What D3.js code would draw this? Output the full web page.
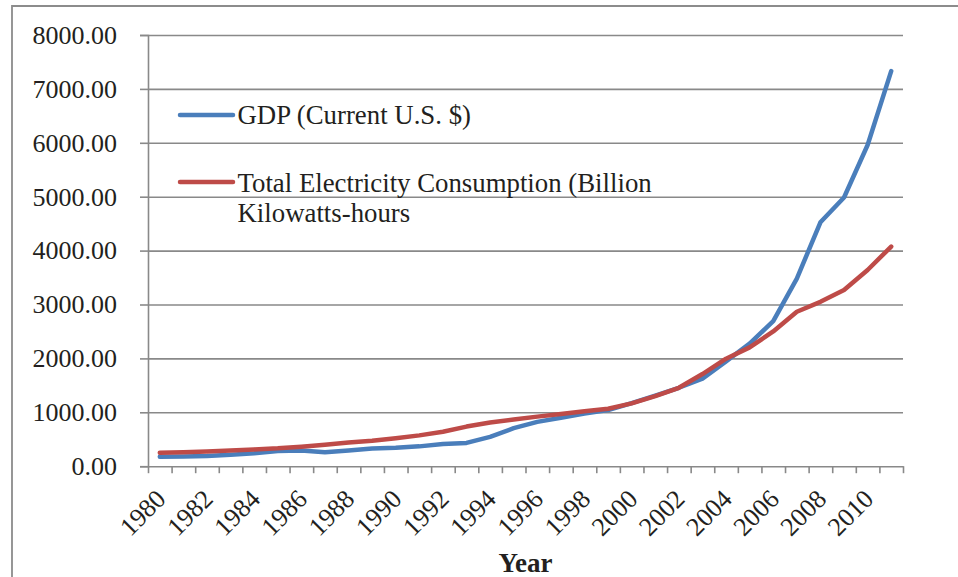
<!DOCTYPE html>
<html>
<head>
<meta charset="utf-8">
<script src="https://cdn.jsdelivr.net/npm/d3@7"></script>
<style>
  html, body { margin: 0; padding: 0; background: #fff; }
  svg { display: block; }
  text { font-family: "Liberation Serif", "Times New Roman", serif; fill: #231f20; }
</style>
</head>
<body>
<svg id="chart" width="958" height="577"></svg>
<script>
const years = [1980,1981,1982,1983,1984,1985,1986,1987,1988,1989,1990,1991,1992,1993,1994,1995,
               1996,1997,1998,1999,2000,2001,2002,2003,2004,2005,2006,2007,2008,2009,2010,2011];
const gdp  = [176,182,190,214,240,280,292,258,292,328,342,368,410,432,545,705,
              822,900,975,1040,1170,1310,1455,1625,1945,2275,2690,3480,4525,4985,5960,7330];
const elec = [250,260,272,292,312,332,362,400,440,472,520,572,640,735,812,867,
              920,970,1018,1065,1165,1300,1455,1710,1995,2205,2500,2866,3050,3268,3640,4075];
const yTicks = [0,1000,2000,3000,4000,5000,6000,7000,8000];
const xLabels = [1980,1982,1984,1986,1988,1990,1992,1994,1996,1998,2000,2002,2004,2006,2008,2010];
const seriesNames = ["GDP (Current U.S. $)", "Total Electricity Consumption (Billion", "Kilowatts-hours"];

const svg = d3.select("#chart");
const L = 148, R = 903, T = 35, B = 466.2;
const gridColor = "#898989";
const blue = "#4A7EBB", red = "#BE4B48";

// outer frame (left & top)
svg.append("path").attr("d", "M12,580 L12,6 L960,6")
  .attr("fill", "none").attr("stroke", "#8c8c8c").attr("stroke-width", 1.8);

const x = d3.scaleBand().domain(years).range([L, R]);
const y = d3.scaleLinear().domain([0, 8000]).range([B, T]);
const cx = d => x(d) + x.bandwidth() / 2;

// y axis ticks + labels
const yAxis = svg.append("g").attr("transform", `translate(${L},0)`)
  .call(d3.axisLeft(y).tickValues(yTicks).tickSize(8).tickFormat(d3.format(".2f")).tickPadding(23));
yAxis.select(".domain").attr("stroke", gridColor).attr("stroke-width", 1.6);
yAxis.selectAll(".tick line").attr("stroke", gridColor).attr("stroke-width", 1.6);
yAxis.selectAll(".tick text").attr("font-size", 26).attr("font-family", "Liberation Serif").attr("fill", "#231f20");

// gridlines
const grid = svg.append("g").attr("transform", `translate(${L},0)`)
  .call(d3.axisLeft(y).tickValues(yTicks.slice(1)).tickSize(-(R - L)).tickFormat(""));
grid.select(".domain").remove();
grid.selectAll(".tick line").attr("stroke", gridColor).attr("stroke-width", 1.6);

// x axis with ticks at category boundaries
const xi = d3.scaleLinear().domain([0, years.length]).range([L, R]);
const xAxis = svg.append("g").attr("transform", `translate(0,${B})`)
  .call(d3.axisBottom(xi).tickValues(d3.range(years.length + 1)).tickSize(7).tickSizeOuter(0).tickFormat(""));
xAxis.select(".domain").attr("stroke", gridColor).attr("stroke-width", 1.6);
xAxis.selectAll(".tick line").attr("stroke", gridColor).attr("stroke-width", 1.6);

// x labels
svg.append("g").selectAll("text").data(xLabels).join("text")
  .attr("transform", d => `translate(${cx(d) + 1},494) rotate(-45)`)
  .attr("text-anchor", "end").attr("dy", "0.35em")
  .attr("font-size", 26).text(d => d);

// axis title
svg.append("text").attr("x", (L + R) / 2).attr("y", 571.5).attr("text-anchor", "middle")
  .attr("font-size", 27).attr("font-weight", "bold").text("Year");

// lines
const line = d3.line().x((d, i) => cx(years[i])).y(d => y(d));
svg.append("path").datum(gdp).attr("d", line).attr("fill", "none")
  .attr("stroke", blue).attr("stroke-width", 4.5).attr("stroke-linejoin", "round").attr("stroke-linecap", "round");
svg.append("path").datum(elec).attr("d", line).attr("fill", "none")
  .attr("stroke", red).attr("stroke-width", 4.5).attr("stroke-linejoin", "round").attr("stroke-linecap", "round");

// legend
const leg = svg.append("g");
leg.append("line").attr("x1", 180).attr("x2", 233).attr("y1", 115).attr("y2", 115)
  .attr("stroke", blue).attr("stroke-width", 4.5).attr("stroke-linecap", "round");
leg.append("text").attr("x", 237.5).attr("y", 124).attr("font-size", 26.8).text(seriesNames[0]);
leg.append("line").attr("x1", 180).attr("x2", 233).attr("y1", 182).attr("y2", 182)
  .attr("stroke", red).attr("stroke-width", 4.5).attr("stroke-linecap", "round");
leg.append("text").attr("x", 237.5).attr("y", 191.5).attr("font-size", 26.8).text(seriesNames[1]);
leg.append("text").attr("x", 237.5).attr("y", 221.5).attr("font-size", 26.8).text(seriesNames[2]);
</script>
</body>
</html>
